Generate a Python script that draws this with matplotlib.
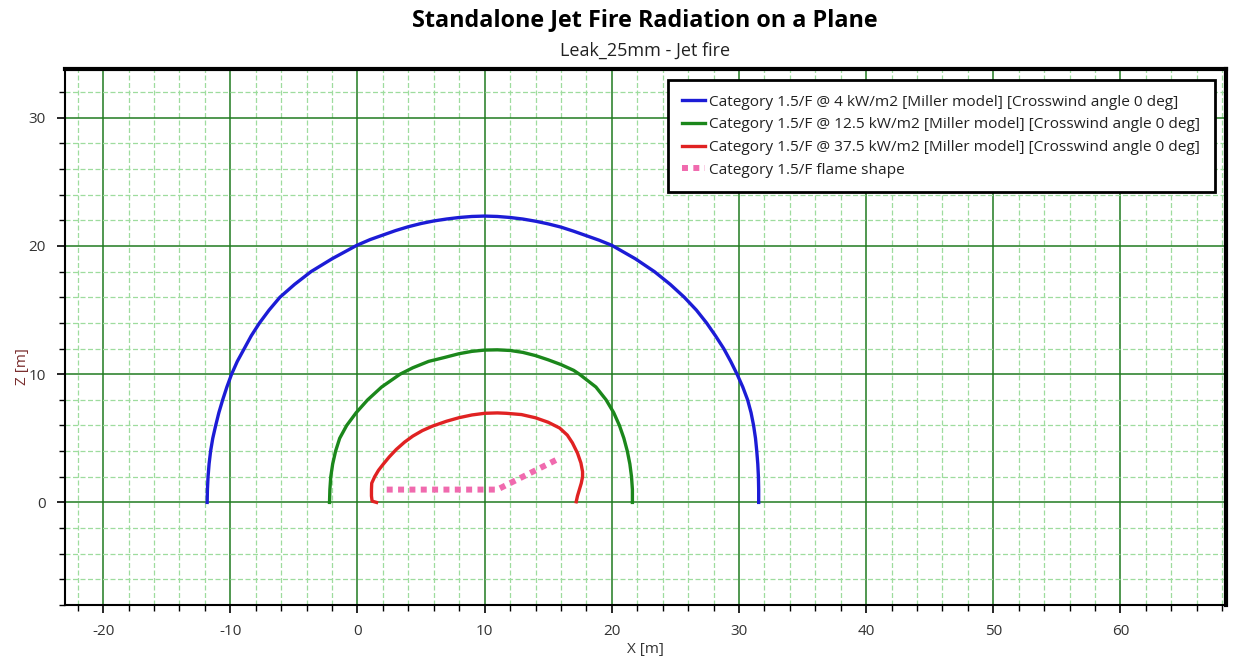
import matplotlib
matplotlib.use("Agg")
import matplotlib.pyplot as plt
from matplotlib.ticker import MultipleLocator

plt.rcParams['font.family'] = ['Open Sans', 'DejaVu Sans']
plt.rcParams['axes.unicode_minus'] = False

# Radiation contours on the X-Z plane (metres)
blue_x = [-11.82, -11.8, -11.75, -11.67, -11.55, -11.38, -11.15, -10.9, -10.6, -10.27,
          -9.9, -9.45, -8.9, -8.35, -7.7, -6.95, -6.1, -4.95, -3.65, -2.0, -0.05,
          1.0, 2.0, 3.0, 4.0, 5.0, 6.0, 7.0, 8.0, 9.0, 10.0, 11.0, 12.0, 13.0, 14.0,
          15.0, 16.0, 17.0, 18.0, 19.0, 20.0, 21.85, 23.35, 24.6, 25.7, 26.65, 27.45,
          28.15, 28.8, 29.35, 29.85, 30.3, 30.68, 30.95, 31.15, 31.3, 31.4, 31.48,
          31.53, 31.55, 31.55]
blue_z = [0.0, 1.0, 2.0, 3.0, 4.0, 5.0, 6.0, 7.0, 8.0, 9.0,
          10.0, 11.0, 12.0, 13.0, 14.0, 15.0, 16.0, 17.0, 18.0, 19.0, 20.05,
          20.5, 20.85, 21.2, 21.5, 21.75, 21.95, 22.1, 22.22, 22.3, 22.33, 22.3,
          22.22, 22.1, 21.93, 21.72, 21.47, 21.15, 20.8, 20.45, 20.05, 19.0, 18.0,
          17.0, 16.0, 15.0, 14.0, 13.0, 12.0, 11.0, 10.0, 9.0, 8.0, 7.0, 6.0, 5.0,
          4.0, 3.0, 2.0, 1.0, 0.0]

green_x = [-2.2, -2.17, -2.1, -1.95, -1.72, -1.4, -0.85, -0.1, 0.8, 1.9, 3.35, 4.35,
           5.6, 6.83, 8.0, 9.0, 10.0, 11.0, 12.0, 13.0, 14.0, 15.0, 16.0, 17.0,
           17.45, 18.75, 19.55, 20.15, 20.6, 20.95, 21.22, 21.42, 21.55, 21.62, 21.62]
green_z = [0.0, 1.0, 2.0, 3.0, 4.0, 5.0, 6.0, 7.0, 8.0, 9.0, 10.0, 10.5,
           11.0, 11.3, 11.6, 11.78, 11.88, 11.9, 11.85, 11.7, 11.45, 11.12, 10.75,
           10.3, 10.0, 9.0, 8.0, 7.0, 6.0, 5.0, 4.0, 3.0, 2.0, 1.0, 0.0]

red_x = [1.5, 1.15, 1.1, 1.1, 1.12, 1.35, 1.65, 2.0, 2.5, 3.05, 3.7, 4.35, 5.1,
         5.9, 7.0, 8.0, 9.0, 10.0, 11.0, 11.7, 12.9, 14.0, 15.0, 15.9, 16.5, 16.9,
         17.3, 17.57, 17.7, 17.7, 17.6, 17.45, 17.3, 17.2]
red_z = [0.0, 0.1, 0.5, 1.0, 1.5, 2.0, 2.5, 2.95, 3.55, 4.13, 4.7, 5.17, 5.6,
         5.95, 6.33, 6.61, 6.82, 6.95, 6.98, 6.95, 6.85, 6.6, 6.25, 5.8, 5.25, 4.65,
         3.85, 3.08, 2.4, 2.0, 1.5, 1.0, 0.5, 0.05]

flame_x = [2.3, 11.0, 12.0, 15.6]
flame_z = [1.0, 1.0, 1.5, 3.3]

labels = [
    "Category 1.5/F @ 4 kW/m2 [Miller model] [Crosswind angle 0 deg]",
    "Category 1.5/F @ 12.5 kW/m2 [Miller model] [Crosswind angle 0 deg]",
    "Category 1.5/F @ 37.5 kW/m2 [Miller model] [Crosswind angle 0 deg]",
    "Category 1.5/F flame shape",
]

fig = plt.figure(figsize=(12.34, 6.6), dpi=100)
ax = fig.add_axes([65 / 1234, 1 - 605 / 660, 1161 / 1234, 536 / 660])

ax.set_xlim(-23.0, 68.3)
ax.set_ylim(-8.0, 33.8)

ax.xaxis.set_major_locator(MultipleLocator(10))
ax.xaxis.set_minor_locator(MultipleLocator(2))
ax.yaxis.set_major_locator(MultipleLocator(10))
ax.yaxis.set_minor_locator(MultipleLocator(2))

ax.grid(which='minor', color='#9edc9e', linewidth=0.9, linestyle=(0, (4, 2)), zorder=0)
ax.grid(which='major', color='#217a21', linewidth=1.1, linestyle='-', zorder=0.5)
ax.set_axisbelow(True)

ax.tick_params(which='major', direction='out', length=6, width=1.2, color='black',
               labelsize=11, labelcolor='#333333', pad=8)
ax.tick_params(which='minor', direction='out', length=4, width=1.0, color='black')

for side in ('left', 'bottom'):
    ax.spines[side].set_linewidth(1.5)
for side in ('top', 'right'):
    ax.spines[side].set_linewidth(3)
for s in ax.spines.values():
    s.set_color('black')

ax.plot(blue_x, blue_z, color='#1c1cd6', lw=2.4, label=labels[0], zorder=3,
        solid_joinstyle='round')
ax.plot(green_x, green_z, color='#1b871b', lw=2.4, label=labels[1], zorder=3,
        solid_joinstyle='round')
ax.plot(red_x, red_z, color='#e02222', lw=2.4, label=labels[2], zorder=3,
        solid_joinstyle='round')
ax.plot(flame_x, flame_z, color='#f06aae', lw=4.3, linestyle=(0, (1, 0.9)),
        dash_capstyle='butt', label=labels[3], zorder=4)

ax.set_xlabel("X [m]", fontsize=11, color='#333333', labelpad=2)
ax.set_ylabel("Z [m]", fontsize=11, color='#7a2e2e')
ax.yaxis.set_label_coords(-0.030, 0.444)

fig.text(645 / 1234, 1 - 20 / 660, "Standalone Jet Fire Radiation on a Plane",
         ha='center', va='center', fontsize=16.8, fontweight='bold', color='black')
fig.text(645 / 1234, 1 - 51 / 660, "Leak_25mm - Jet fire",
         ha='center', va='center', fontsize=13, color='#222222')

leg = ax.legend(loc='upper right', bbox_to_anchor=(0.9905, 0.9795), borderaxespad=0,
                fancybox=False, framealpha=1, edgecolor='black', fontsize=11.1,
                handlelength=1.45, handletextpad=0.3, labelspacing=0.5,
                borderpad=0.95, labelcolor='#222222')
leg.get_frame().set_linewidth(2)

fig.savefig("out.png", dpi=100)
